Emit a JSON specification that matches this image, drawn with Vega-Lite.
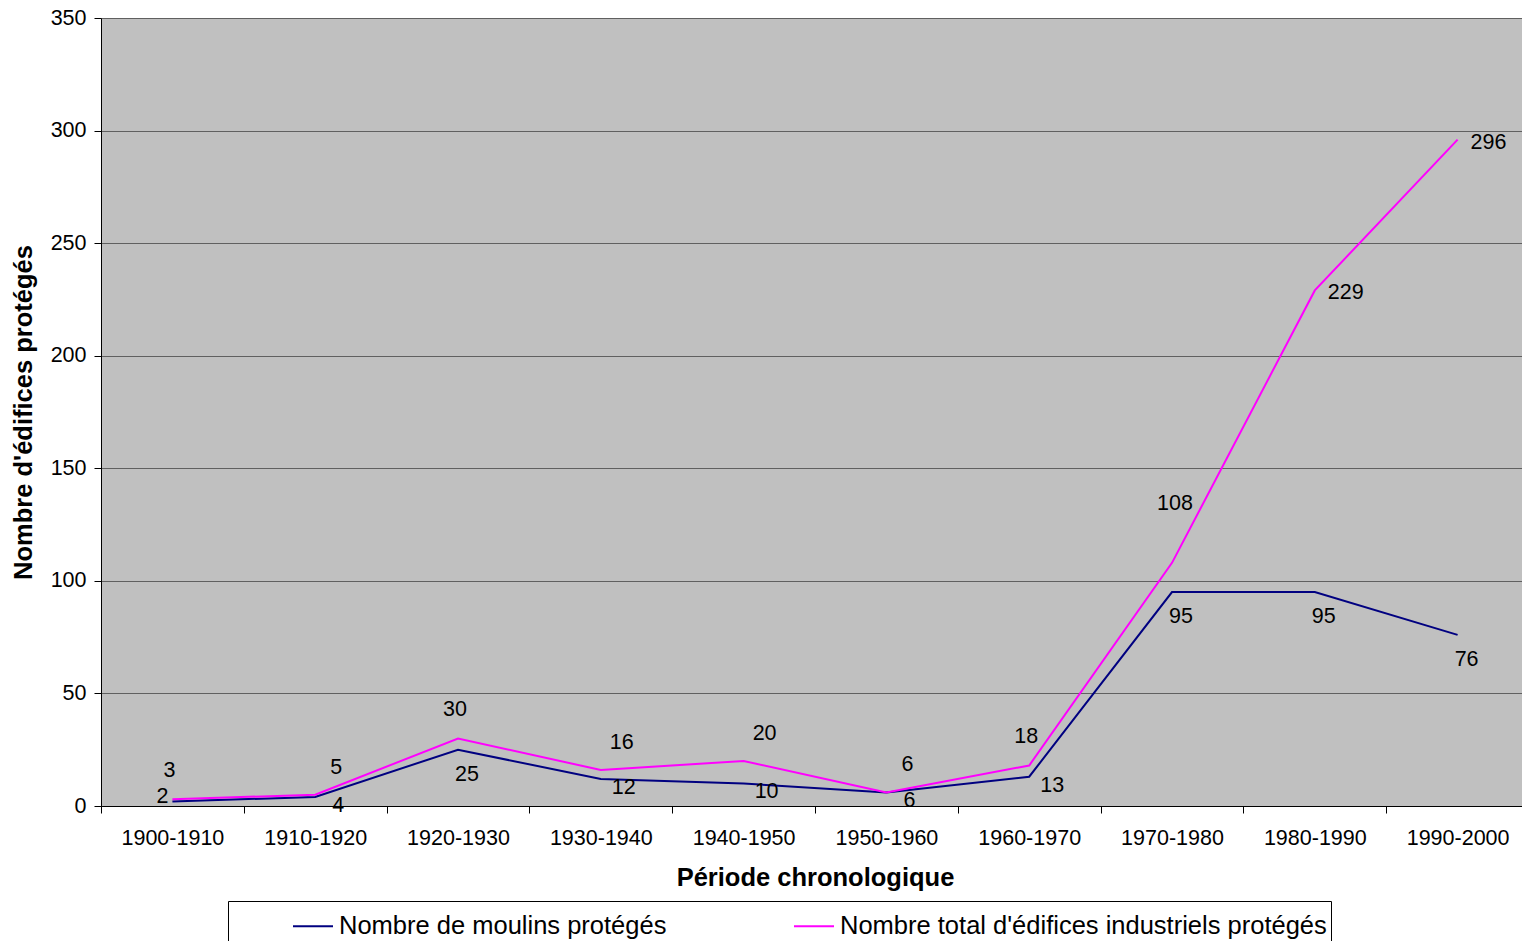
{
  "$schema": "https://vega.github.io/schema/vega-lite/v6.json",
  "width": 1428,
  "height": 788,
  "autosize": {"type": "none"},
  "padding": {"left": 101, "top": 18, "right": 0, "bottom": 135},
  "background": "white",
  "config": {
    "font": "Liberation Sans",
    "view": {"fill": "#C0C0C0", "stroke": null},
    "text": {"font": "Liberation Sans", "fontSize": 21.5, "fill": "black"}
  },
  "data": {
    "values": [
      {"periode": "1900-1910", "serie": "Nombre de moulins protégés", "valeur": 2},
      {"periode": "1910-1920", "serie": "Nombre de moulins protégés", "valeur": 4},
      {"periode": "1920-1930", "serie": "Nombre de moulins protégés", "valeur": 25},
      {"periode": "1930-1940", "serie": "Nombre de moulins protégés", "valeur": 12},
      {"periode": "1940-1950", "serie": "Nombre de moulins protégés", "valeur": 10},
      {"periode": "1950-1960", "serie": "Nombre de moulins protégés", "valeur": 6},
      {"periode": "1960-1970", "serie": "Nombre de moulins protégés", "valeur": 13},
      {"periode": "1970-1980", "serie": "Nombre de moulins protégés", "valeur": 95},
      {"periode": "1980-1990", "serie": "Nombre de moulins protégés", "valeur": 95},
      {"periode": "1990-2000", "serie": "Nombre de moulins protégés", "valeur": 76},
      {"periode": "1900-1910", "serie": "Nombre total d'édifices industriels protégés", "valeur": 3},
      {"periode": "1910-1920", "serie": "Nombre total d'édifices industriels protégés", "valeur": 5},
      {"periode": "1920-1930", "serie": "Nombre total d'édifices industriels protégés", "valeur": 30},
      {"periode": "1930-1940", "serie": "Nombre total d'édifices industriels protégés", "valeur": 16},
      {"periode": "1940-1950", "serie": "Nombre total d'édifices industriels protégés", "valeur": 20},
      {"periode": "1950-1960", "serie": "Nombre total d'édifices industriels protégés", "valeur": 6},
      {"periode": "1960-1970", "serie": "Nombre total d'édifices industriels protégés", "valeur": 18},
      {"periode": "1970-1980", "serie": "Nombre total d'édifices industriels protégés", "valeur": 108},
      {"periode": "1980-1990", "serie": "Nombre total d'édifices industriels protégés", "valeur": 229},
      {"periode": "1990-2000", "serie": "Nombre total d'édifices industriels protégés", "valeur": 296}
    ]
  },
  "encoding": {
    "x": {
      "field": "periode",
      "type": "ordinal",
      "sort": null,
      "scale": {"paddingInner": 0, "paddingOuter": 0},
      "axis": {
        "title": "Période chronologique",
        "titleFont": "Liberation Sans",
        "titleFontSize": 25.5,
        "titleFontWeight": "bold",
        "titleColor": "black",
        "titlePadding": 17,
        "labelAngle": 0,
        "labelFont": "Liberation Sans",
        "labelFontSize": 21.5,
        "labelColor": "black",
        "labelPadding": 14,
        "tickBand": "extent",
        "tickSize": 7,
        "tickColor": "black",
        "domainColor": "black",
        "grid": false
      }
    },
    "y": {
      "field": "valeur",
      "type": "quantitative",
      "scale": {"domain": [0, 350], "nice": false},
      "axis": {
        "title": "Nombre d'édifices protégés",
        "titleFont": "Liberation Sans",
        "titleFontSize": 25.5,
        "titleFontWeight": "bold",
        "titleColor": "black",
        "titlePadding": 14,
        "values": [0, 50, 100, 150, 200, 250, 300, 350],
        "labelFont": "Liberation Sans",
        "labelFontSize": 21.5,
        "labelColor": "black",
        "labelPadding": 8,
        "tickSize": 7,
        "tickColor": "black",
        "domainColor": "black",
        "grid": true,
        "gridColor": "#606060",
        "gridWidth": 1
      }
    }
  },
  "layer": [
    {
      "mark": {"type": "line", "strokeWidth": 2},
      "encoding": {
        "color": {
          "field": "serie",
          "type": "nominal",
          "scale": {
            "domain": ["Nombre de moulins protégés", "Nombre total d'édifices industriels protégés"],
            "range": ["#000080", "#FF00FF"]
          },
          "legend": {
            "orient": "none",
            "legendX": 127,
            "legendY": 883,
            "direction": "horizontal",
            "title": null,
            "strokeColor": "black",
            "fillColor": "white",
            "padding": 4,
            "symbolType": "stroke",
            "symbolSize": 1600,
            "symbolStrokeWidth": 2,
            "symbolOffset": 60,
            "labelOffset": 5,
            "labelFont": "Liberation Sans",
            "labelFontSize": 25.5,
            "labelColor": "black",
            "labelLimit": 0,
            "columnPadding": 66
          }
        }
      }
    },
    {
      "transform": [
        {"filter": "datum.serie === 'Nombre de moulins protégés' && indexof(['1910-1920','1930-1940','1940-1950','1950-1960','1960-1970'], datum.periode) >= 0"}
      ],
      "mark": {"type": "text", "dx": 23, "dy": 9},
      "encoding": {"text": {"field": "valeur"}}
    },
    {
      "transform": [
        {"filter": "datum.serie === 'Nombre de moulins protégés' && indexof(['1920-1930','1970-1980','1980-1990','1990-2000'], datum.periode) >= 0"}
      ],
      "mark": {"type": "text", "dx": 9, "dy": 25},
      "encoding": {"text": {"field": "valeur"}}
    },
    {
      "transform": [
        {"filter": "datum.serie === 'Nombre de moulins protégés' && datum.periode === '1900-1910'"}
      ],
      "mark": {"type": "text", "dx": -10, "dy": -4},
      "encoding": {"text": {"field": "valeur"}}
    },
    {
      "transform": [
        {"filter": "datum.serie !== 'Nombre de moulins protégés' && indexof(['1900-1910','1920-1930','1960-1970'], datum.periode) >= 0"}
      ],
      "mark": {"type": "text", "dx": -3, "dy": -28},
      "encoding": {"text": {"field": "valeur"}}
    },
    {
      "transform": [
        {"filter": "datum.serie !== 'Nombre de moulins protégés' && indexof(['1910-1920','1930-1940','1940-1950','1950-1960'], datum.periode) >= 0"}
      ],
      "mark": {"type": "text", "dx": 21, "dy": -27},
      "encoding": {"text": {"field": "valeur"}}
    },
    {
      "transform": [
        {"filter": "datum.serie !== 'Nombre de moulins protégés' && datum.periode === '1970-1980'"}
      ],
      "mark": {"type": "text", "dx": 3, "dy": -59},
      "encoding": {"text": {"field": "valeur"}}
    },
    {
      "transform": [
        {"filter": "datum.serie !== 'Nombre de moulins protégés' && indexof(['1980-1990','1990-2000'], datum.periode) >= 0"}
      ],
      "mark": {"type": "text", "align": "left", "dx": 13, "dy": 3},
      "encoding": {"text": {"field": "valeur"}}
    }
  ]
}
